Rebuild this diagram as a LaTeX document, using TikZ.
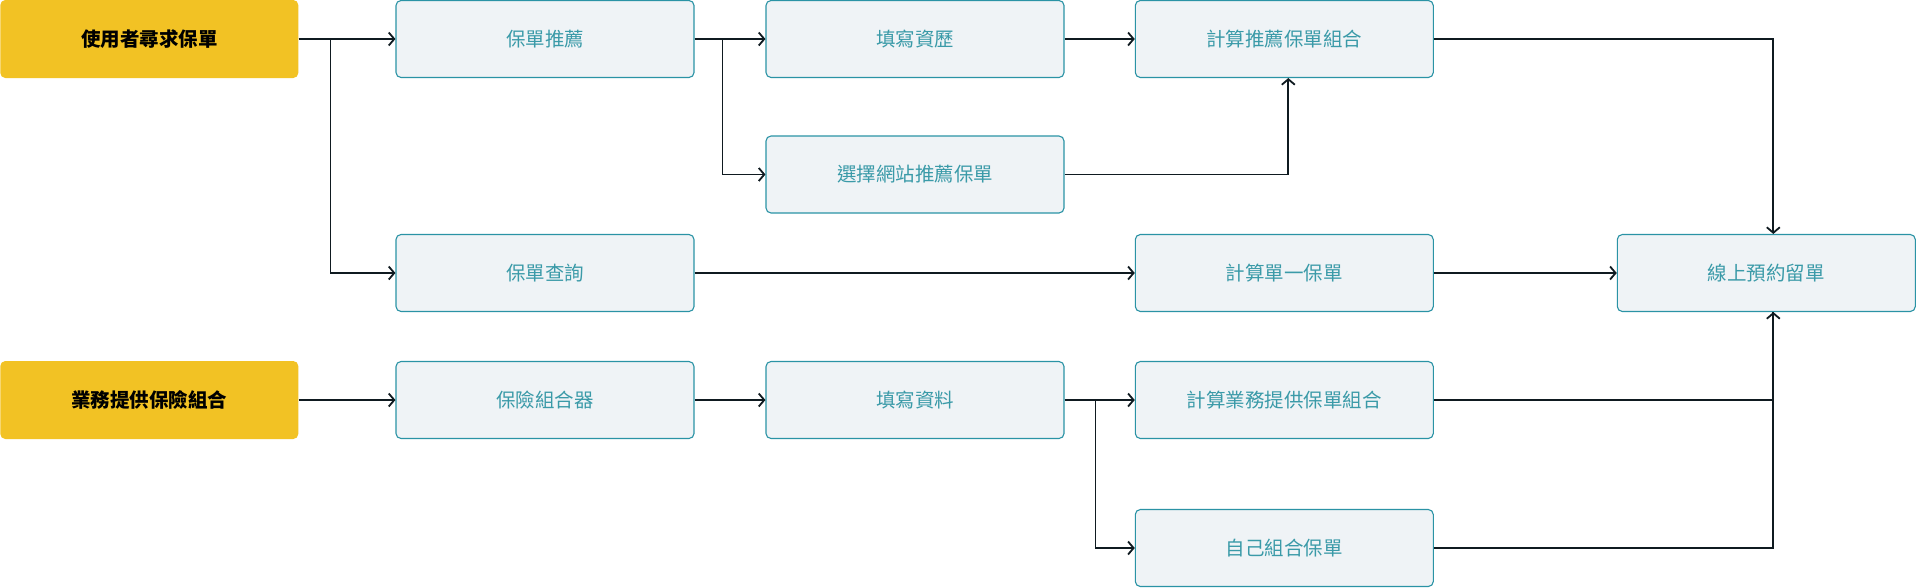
\documentclass[tikz,border=0pt]{standalone}
\usepackage{fontspec}
\setmainfont{Noto Sans CJK TC}
\usetikzlibrary{arrows.meta}
\definecolor{ybox}{HTML}{F2C224}
\definecolor{bfill}{HTML}{EFF3F6}
\definecolor{bdraw}{HTML}{2A93A5}
\definecolor{btext}{HTML}{3A9AA8}
\definecolor{lnk}{HTML}{0F1A20}
\tikzset{
  startbox/.style={fill=ybox, rounded corners=5pt, minimum width=298pt, minimum height=78pt, inner sep=0pt, text=black, font=\fontsize{19.5}{22}\selectfont\bfseries},
  procbox/.style={fill=bfill, draw=bdraw, line width=1.1pt, rounded corners=5pt, minimum width=298pt, minimum height=77pt, inner sep=0pt, text=btext, font=\fontsize{19.5}{22}\selectfont},
  link/.style={draw=lnk, line width=1.8pt, -{Straight Barb[length=5.5pt,width=13pt,line width=1.8pt]}},
  plain/.style={draw=lnk, line width=1.8pt}
}
\begin{document}
\begin{tikzpicture}[x=1pt,y=-1pt]
\useasboundingbox (0,0) rectangle (1921,587);
% column 0
\node[startbox] (y1) at (149.3,39) {使用者尋求保單};
\node[startbox] (y2) at (149.3,400) {業務提供保險組合};
% column 1
\node[procbox] (rec) at (545,39) {保單推薦};
\node[procbox] (qry) at (545,273) {保單查詢};
\node[procbox] (cmb) at (545,400) {保險組合器};
% column 2
\node[procbox] (fill1) at (915,39) {填寫資歷};
\node[procbox] (sel) at (915,174.5) {選擇網站推薦保單};
\node[procbox] (fill2) at (915,400) {填寫資料};
% column 3
\node[procbox] (crec) at (1284.3,39) {計算推薦保單組合};
\node[procbox] (csgl) at (1284.3,273) {計算單一保單};
\node[procbox] (cbiz) at (1284.3,400) {計算業務提供保單組合};
\node[procbox] (self) at (1284.3,548) {自己組合保單};
% column 4
\node[procbox] (onl) at (1766.3,273) {線上預約留單};
\coordinate (onlN) at ([xshift=7pt]onl.north);
\coordinate (onlS) at ([xshift=7pt]onl.south);
\coordinate (crecS) at ([xshift=4pt]crec.south);
% connectors
\draw[link] (y1.east) -- (rec.west);
\draw[link] (y1.east) -- ++(32,0) |- (qry.west);
\draw[link] (rec.east) -- (fill1.west);
\draw[link] (rec.east) -- ++(28,0) |- (sel.west);
\draw[link] (fill1.east) -- (crec.west);
\draw[link] (sel.east) -| (crecS);
\draw[link] (crec.east) -| (onlN);
\draw[link] (qry.east) -- (csgl.west);
\draw[link] (csgl.east) -- (onl.west);
\draw[link] (y2.east) -- (cmb.west);
\draw[link] (cmb.east) -- (fill2.west);
\draw[link] (fill2.east) -- (cbiz.west);
\draw[link] (fill2.east) -- ++(31,0) |- (self.west);
\draw[plain] (cbiz.east) -| (onlS);
\draw[link] (self.east) -| (onlS);
\end{tikzpicture}
\end{document}
